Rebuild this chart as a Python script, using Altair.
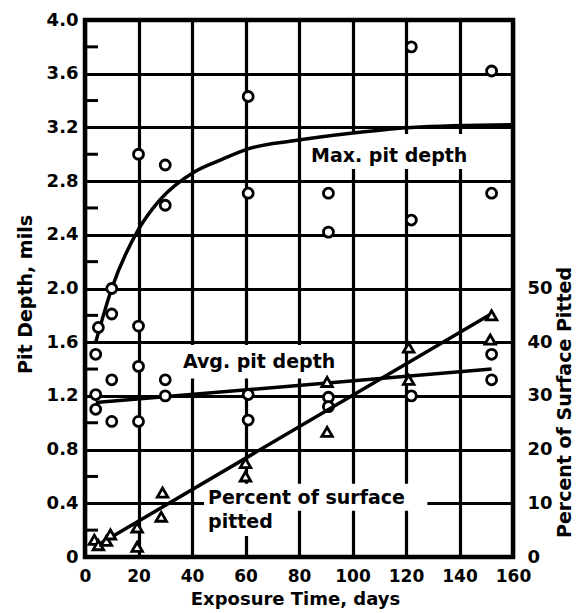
import altair as alt
import pandas as pd

# ---------------- data ----------------
# Maximum pit depth observations (circles), days / mils
max_days = [5, 10, 10, 20, 20, 30, 30, 61, 61, 91, 91, 122, 122, 152, 152]
max_depth = [1.71, 2.00, 1.81, 3.00, 1.72, 2.92, 2.62, 3.43, 2.71, 2.71, 2.42, 3.80, 2.51, 3.62, 2.71]

# Average pit depth observations (circles)
avg_days = [4, 4, 4, 10, 10, 20, 20, 30, 30, 61, 61, 91, 91, 122, 152, 152]
avg_depth = [1.51, 1.21, 1.10, 1.32, 1.01, 1.42, 1.01, 1.32, 1.20, 1.21, 1.02, 1.19, 1.12, 1.20, 1.51, 1.32]

# Percent of surface pitted (triangles)
pct_days = [3.5, 5, 8, 9.5, 19.5, 19.5, 29, 28.5, 60, 60, 90.5, 90.5, 121, 121, 152, 151.5]
pct_val = [3.2, 2.2, 3.0, 4.2, 5.5, 1.9, 12.0, 7.5, 17.5, 15.0, 32.6, 23.3, 39.0, 33.0, 45.0, 40.5]

# Fitted curves / lines
max_curve_days = [4, 10, 20, 28, 41, 51, 61, 78, 101, 122, 160]
max_curve_depth = [1.60, 2.00, 2.44, 2.66, 2.87, 2.96, 3.04, 3.10, 3.16, 3.20, 3.22]
avg_line_days = [4, 152]
avg_line_depth = [1.15, 1.40]
pct_line_days = [4, 151]
pct_line_val = [2.0, 45.0]

# Axis ticks
x_ticks = [0, 20, 40, 60, 80, 100, 120, 140, 160]
depth_ticks = [0, 0.4, 0.8, 1.2, 1.6, 2.0, 2.4, 2.8, 3.2, 3.6, 4.0]
depth_minor = [0.2, 0.6, 1.0, 1.4, 1.8, 2.2, 2.6, 3.0, 3.4, 3.8]
pct_ticks = [0, 10, 20, 30, 40, 50]

# Curve labels
depth_labels = ["Max. pit depth", "Avg. pit depth"]
pct_labels = ["Percent of surface", "pitted"]

# ---------------- tables ----------------
FONT = "DejaVu Sans"

df_max = pd.DataFrame({"d": max_days, "v": max_depth})
df_avg = pd.DataFrame({"d": avg_days, "v": avg_depth})
df_pct = pd.DataFrame({"d": pct_days, "v": pct_val})
df_maxc = pd.DataFrame({"d": max_curve_days, "v": max_curve_depth})
df_avgl = pd.DataFrame({"d": avg_line_days, "v": avg_line_depth})
df_pctl = pd.DataFrame({"d": pct_line_days, "v": pct_line_val})
df_minor = pd.DataFrame({"v": depth_minor})

df_dlab = pd.DataFrame({"label": depth_labels, "d": [84.5, 36.6], "v": [2.985, 1.455]})
df_plab = pd.DataFrame({"label": pct_labels, "d": [46, 46], "v": [11.0, 6.5]})
# white boxes behind the labels (gridlines break there)
df_box = pd.DataFrame({
    "d0": [82.5, 35.5, 44.5, 44.5],
    "d1": [147.5, 91.0, 128.0, 72.0],
    "v0": [2.89, 1.33, 0.345, 0.157],
    "v1": [3.15, 1.58, 0.545, 0.345],
})

x_scale = alt.Scale(domain=[0, 160], nice=False, zero=False)
depth_scale = alt.Scale(domain=[0, 4.0], nice=False, zero=False)
pct_scale = alt.Scale(domain=[0, 100], nice=False, zero=False)

x_axis = alt.Axis(
    values=x_ticks, grid=True, gridColor="black", gridWidth=3.2, gridOpacity=1,
    ticks=False, domain=False, labelFontSize=17, labelFontWeight="bold",
    labelFont=FONT, labelColor="black", labelPadding=11, labelFlush=False,
    title="Exposure Time, days", titleFont=FONT, titleFontSize=18,
    titleFontWeight="bold", titleColor="black", titleX=210, titleY=42,
    titleAlign="center", titleBaseline="middle",
)
depth_axis = alt.Axis(
    values=depth_ticks, grid=True, gridColor="black", gridWidth=3.2, gridOpacity=1,
    ticks=False, domain=False, labelFontSize=18, labelFontWeight="bold",
    labelFont=FONT, labelColor="black", labelPadding=7, labelFlush=False,
    labelExpr="datum.value == 0 ? '0' : format(datum.value, '.1f')",
    title="Pit Depth, mils", titleFont=FONT, titleFontSize=19,
    titleFontWeight="bold", titleColor="black", titleAngle=270,
    titleX=-60, titleY=274, titleAlign="center", titleBaseline="middle",
)
pct_axis = alt.Axis(
    orient="right", values=pct_ticks, grid=False, ticks=False, domain=False,
    labelFontSize=18, labelFontWeight="bold", labelFont=FONT, labelColor="black",
    labelPadding=14, labelFlush=False,
    title="Percent of Surface Pitted", titleFont=FONT, titleFontSize=19,
    titleFontWeight="bold", titleColor="black", titleAngle=270,
    titleX=51, titleY=382, titleAlign="center", titleBaseline="middle",
)

X = alt.X("d:Q", scale=x_scale, axis=x_axis)
YD = alt.Y("v:Q", scale=depth_scale, axis=depth_axis)
YP = alt.Y("v:Q", scale=pct_scale, axis=pct_axis)

boxes = alt.Chart(df_box).mark_rect(color="white", opacity=1).encode(
    x=alt.X("d0:Q", scale=x_scale, axis=x_axis), x2="d1:Q",
    y=alt.Y("v0:Q", scale=depth_scale, axis=depth_axis), y2="v1:Q",
)
minor = alt.Chart(df_minor).mark_rule(color="black", strokeWidth=3).encode(
    x=alt.value(0), x2=alt.value(13), y=YD,
)
max_curve = alt.Chart(df_maxc).mark_line(
    color="black", strokeWidth=3.5, interpolate="monotone").encode(x=X, y=YD)
avg_line = alt.Chart(df_avgl).mark_line(color="black", strokeWidth=3.5).encode(x=X, y=YD)
pt_style = dict(filled=True, fill="white", stroke="black", strokeWidth=2.8, opacity=1)
max_pts = alt.Chart(df_max).mark_point(shape="circle", size=100, **pt_style).encode(x=X, y=YD)
avg_pts = alt.Chart(df_avg).mark_point(shape="circle", size=100, **pt_style).encode(x=X, y=YD)
txt_style = dict(align="left", baseline="middle", font=FONT, fontSize=19,
                 fontWeight="bold", color="black")
dlab = alt.Chart(df_dlab).mark_text(**txt_style).encode(x=X, y=YD, text="label:N")

pct_line = alt.Chart(df_pctl).mark_line(color="black", strokeWidth=3.5).encode(x=X, y=YP)
pct_pts = alt.Chart(df_pct).mark_point(shape="triangle-up", size=110, **pt_style).encode(x=X, y=YP)
plab = alt.Chart(df_plab).mark_text(**txt_style).encode(x=X, y=YP, text="label:N")

depth_layer = alt.layer(boxes, minor, max_curve, avg_line, max_pts, avg_pts, dlab)
pct_layer = alt.layer(pct_line, pct_pts, plab)

chart = alt.layer(depth_layer, pct_layer).resolve_scale(y="independent").properties(
    width=428, height=537,
    autosize=alt.AutoSizeParams(type="none"),
    padding={"left": 77, "top": 12, "right": 65, "bottom": 53},
    background="white",
).configure_view(stroke="black", strokeWidth=4.5)

chart.save("out.html", embed_options={"renderer": "svg", "actions": False})
